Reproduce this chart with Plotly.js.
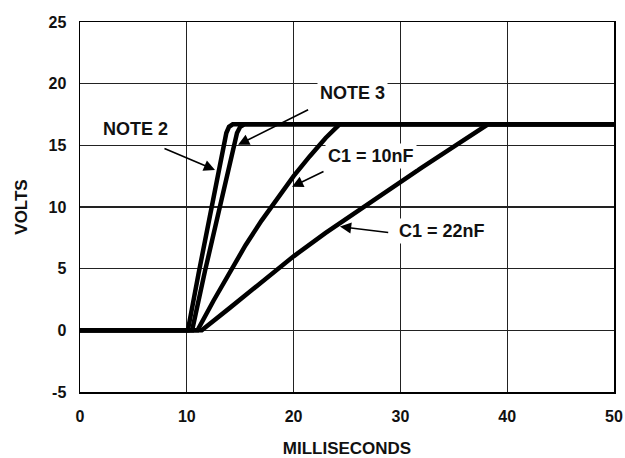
<!DOCTYPE html>
<html>
<head>
<meta charset="utf-8">
<script src="https://cdn.plot.ly/plotly-3.0.1.min.js"></script>
<style>html,body{margin:0;padding:0;background:#fff;}#chart{width:625px;height:458px;}</style>
</head>
<body>
<div id="chart"></div>
<script>
// Time in milliseconds, volts
var note2_t = [0, 10.1, 11.1, 12.2, 12.8, 13.4, 13.7, 13.95, 14.3, 50];
var note2_v = [0, 0, 4.6, 9.5, 12.3, 15.0, 16.0, 16.5, 16.7, 16.7];

var note3_t = [0, 10.5, 11.7, 12.8, 13.6, 14.35, 14.7, 15.0, 15.4, 50];
var note3_v = [0, 0, 4.8, 9.0, 12.1, 15.0, 16.0, 16.5, 16.7, 16.7];

var c10_t = [0, 11.0, 12.5, 14.0, 15.5, 17.0, 18.5, 20.0, 21.5, 23.0, 24.3, 50];
var c10_v = [0, 0, 2.4, 4.7, 6.9, 8.9, 10.7, 12.5, 14.1, 15.6, 16.7, 16.7];

var c22_t = [0, 11.4, 14, 17, 20, 23, 26, 29, 32, 35, 38.2, 50];
var c22_v = [0, 0, 1.8, 3.9, 6.0, 7.9, 9.7, 11.5, 13.2, 14.9, 16.7, 16.7];

// Labels: text, text position, arrow tail, arrow tip
var labelText = ["NOTE 2", "NOTE 3", "C1 = 10nF", "C1 = 22nF"];
var labelX = [5.24, 25.47, 27.25, 33.9];
var labelY = [16.33, 19.24, 14.15, 8.08];
var tailX = [7.77, 21.5, 22.94, 29.0];
var tailY = [14.8, 17.95, 12.93, 7.92];
var tipX = [12.64, 14.8, 19.85, 24.34];
var tipY = [13.0, 15.04, 11.64, 8.41];

var xTicks = [0, 10, 20, 30, 40, 50];
var yTicks = [-5, 0, 5, 10, 15, 20, 25];

var FONT = "Liberation Sans, Arial, Helvetica, sans-serif";

function curve(t, v) {
  return {x: t, y: v, type: 'scatter', mode: 'lines',
    line: {color: '#000', width: 4.5}, hoverinfo: 'skip'};
}
var data = [curve(c22_t, c22_v), curve(c10_t, c10_v), curve(note3_t, note3_v), curve(note2_t, note2_v)];

var annotations = [];
for (var i = 0; i < labelText.length; i++) {
  annotations.push({
    x: tipX[i], y: tipY[i], xref: 'x', yref: 'y',
    ax: tailX[i], ay: tailY[i], axref: 'x', ayref: 'y',
    text: '', showarrow: true, arrowhead: 2, arrowsize: 1.4, arrowwidth: 1.6,
    arrowcolor: '#000', standoff: 0, startstandoff: 0
  });
  annotations.push({
    x: labelX[i], y: labelY[i], xref: 'x', yref: 'y',
    text: '<b>' + labelText[i] + '</b>', showarrow: false,
    bgcolor: '#fff', borderpad: 2,
    font: {family: FONT, size: 18, color: '#111'}
  });
}

var layout = {
  width: 625, height: 458,
  margin: {l: 80, r: 11, t: 22, b: 66},
  paper_bgcolor: '#fff', plot_bgcolor: '#fff',
  showlegend: false,
  font: {family: FONT, color: '#111'},
  xaxis: {
    range: [0, 50], tickvals: xTicks, ticktext: xTicks.map(function(v){return '<b>' + v + '</b>';}),
    showgrid: true, gridcolor: '#222', gridwidth: 1.3, zeroline: false,
    showline: true, mirror: true, linecolor: '#000', linewidth: 1.5,
    ticks: '', ticklabelstandoff: 9,
    tickfont: {family: FONT, size: 16, color: '#111'},
    title: {text: '<b>MILLISECONDS</b>', font: {family: FONT, size: 17, color: '#111'}, standoff: 25},
    fixedrange: true
  },
  yaxis: {
    range: [-5, 25], tickvals: yTicks, ticktext: yTicks.map(function(v){return '<b>' + v + '</b>';}),
    showgrid: true, gridcolor: '#222', gridwidth: 1.3, zeroline: false,
    showline: true, mirror: true, linecolor: '#000', linewidth: 1.5,
    ticks: '', ticklabelstandoff: 9,
    tickfont: {family: FONT, size: 16, color: '#111'},
    title: {text: '<b>VOLTS</b>', font: {family: FONT, size: 17, color: '#111'}, standoff: 16},
    fixedrange: true
  },
  annotations: annotations
};

Plotly.newPlot('chart', data, layout, {displayModeBar: false, staticPlot: true});
</script>
</body>
</html>
